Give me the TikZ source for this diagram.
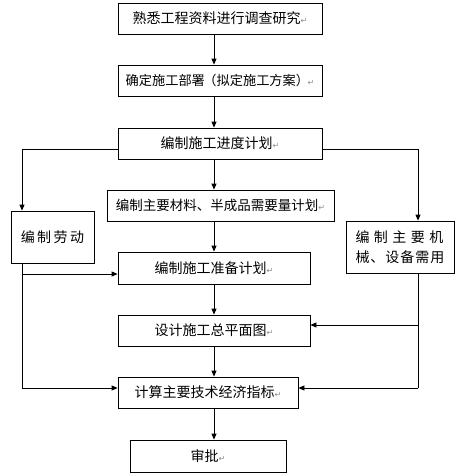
\documentclass[tikz,border=0pt]{standalone}
\usepackage{fontspec}
\newfontfamily\cjk{Noto Sans CJK SC}
\newfontfamily\symfont{DejaVu Sans}
\usetikzlibrary{positioning,arrows.meta,calc}
\definecolor{ink}{HTML}{000000}
\definecolor{pmk}{HTML}{8C8C8C}
\newcommand{\pmark}{{\symfont\fontsize{8}{8}\selectfont\textcolor{pmk}{↵}}}
\tikzset{
  arr/.style={-{Triangle[length=6pt,width=5pt]}, line width=0.8pt, color=ink},
  ln/.style={line width=0.8pt, color=ink},
  stepbox/.style={draw=ink, line width=0.8pt, minimum width=#1, minimum height=31pt,
    inner sep=0pt, align=center, font=\cjk\fontsize{14}{20}\selectfont, text=ink},
  stepbox/.default=204pt,
}

\begin{document}
\begin{tikzpicture}[x=1pt,y=-1pt]
  \useasboundingbox[fill=white] (0,0) rectangle (462,475);
  % main column
  \node[stepbox] (survey) at (220,18.5) {熟悉工程资料进行调查研究\pmark};
  \node[stepbox, font=\cjk\fontsize{13.2}{20}\selectfont] (deploy) at (220,80.5)
    {确定施工部署\hspace{-1.5pt}（拟定施工方案）\hspace{-1.5pt}\pmark};
  \node[stepbox] (sched) at (220,143.5) {编制施工进度计划\pmark};
  \node[stepbox=227pt, font=\cjk\fontsize{13.5}{20}\selectfont] (mater) at (220.5,205.5)
    {编制主要材料、半成品需要量计划\pmark};
  \node[stepbox=192pt, minimum height=32pt] (prep) at (214,268) {编制施工准备计划\pmark};
  \node[stepbox=192pt] (plan) at (214,330.5) {设计施工总平面图\pmark};
  \node[stepbox=180pt] (econ) at (208,392.5) {计算主要技术经济指标\pmark};
  \node[stepbox=156pt, minimum height=32pt] (appr) at (208,456) {审批\pmark};
  % side boxes
  \node[stepbox=83pt, minimum height=52pt] (labour) at (52.5,237)
    {编\hspace{2.5pt}制\hspace{2.5pt}劳\hspace{2.5pt}动};
  \node[stepbox=108pt, minimum height=52pt, align=left] (mach) at (400,247)
    {编\hspace{4.5pt}制\hspace{4.5pt}主\hspace{4.5pt}要\hspace{4.5pt}机\\
     械\hspace{1pt}、\hspace{1pt}设\hspace{1pt}备\hspace{1pt}需\hspace{1pt}用};
  % guide lines
  \coordinate (spine) at (214,0);
  \coordinate (lx) at (22,149);
  \coordinate (rx) at (418,149);
  \coordinate (lb1) at (22,274);
  \coordinate (lb2) at (22,388);
  \coordinate (rb1) at (418,325);
  \coordinate (rb2) at (418,388);
  % arrows down the spine
  \foreach \a/\b in {survey/deploy,deploy/sched,sched/mater,mater/prep,prep/plan,plan/econ,econ/appr}
    \draw[arr] (\a.south -| spine) -- (\b.north -| spine);
  % left branch
  \draw[arr] (sched.west |- lx) -- (lx) -- (labour.north -| lx);
  \draw[ln] (labour.south -| lx) -- (lb2);
  \draw[arr] (lb1) -- (lb1 -| prep.west);
  \draw[arr] (lb2) -- (lb2 -| econ.west);
  % right branch
  \draw[arr] (sched.east |- rx) -- (rx) -- (mach.north -| rx);
  \draw[ln] (mach.south -| rx) -- (rb2);
  \draw[arr] (rb1) -- (rb1 -| plan.east);
  \draw[arr] (rb2) -- (rb2 -| econ.east);
\end{tikzpicture}
\end{document}
